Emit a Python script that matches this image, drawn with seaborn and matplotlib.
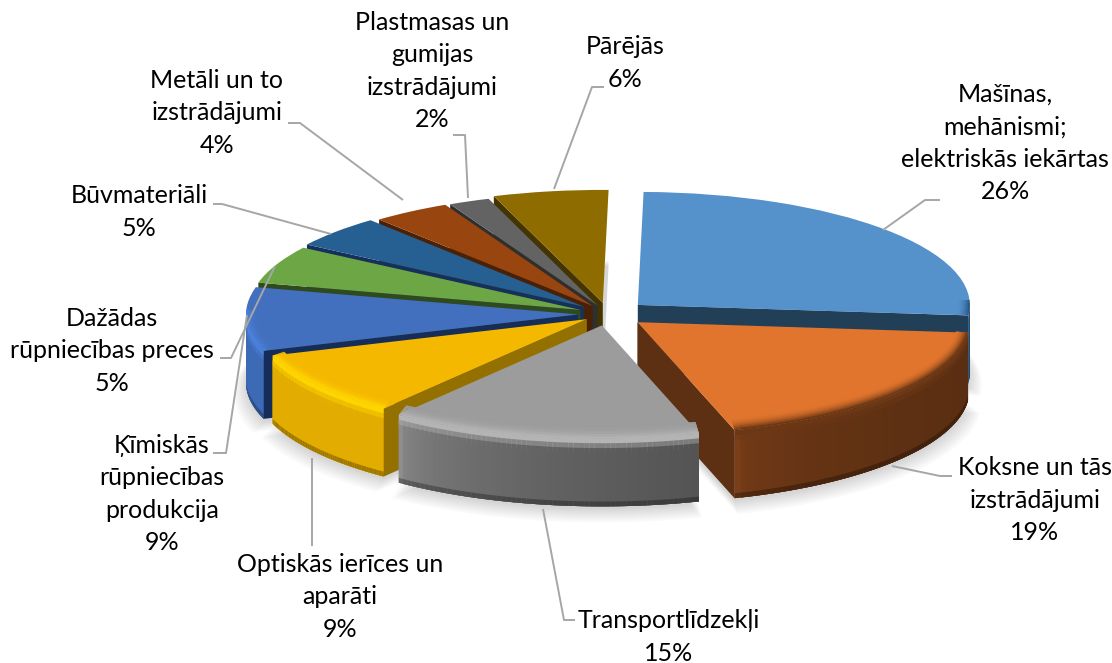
import numpy as np
import seaborn as sns
import matplotlib
matplotlib.use('Agg')
import matplotlib.pyplot as plt
from matplotlib.collections import PolyCollection
from matplotlib.colors import to_rgb
from matplotlib.patches import Wedge

# Data (label percentages are the rounded values)
categories = ['Mašīnas,\nmehānismi;\nelektriskās iekārtas', 'Koksne un tās\nizstrādājumi',
              'Transportlīdzekļi', 'Optiskās ierīces un\naparāti',
              'Ķīmiskās\nrūpniecības\nprodukcija', 'Dažādas\nrūpniecības preces',
              'Būvmateriāli', 'Metāli un to\nizstrādājumi',
              'Plastmasas un\ngumijas\nizstrādājumi', 'Pārējās']
shares = [26.2, 18.8, 15.2, 9.3, 9.1, 5.4, 4.6, 3.8, 2.0, 5.6]

# Styles, slice by slice
top_colors = ['#5591CB', '#E1752D', '#9C9C9C', '#F5B800', '#4370BE',
              '#6CA645', '#265F91', '#99450F', '#636363', '#8F6C00']
face_colors = ['#223F58', '#5E3013', '#555555', '#937000', '#162C59',
               '#2F4A1E', '#15305A', '#4A2106', '#2F2F2F', '#443400']
wall_left = ['#2F5F8F', '#7A3E18', '#8E8E8E', '#E3AC00', '#3D6AB5',
             '#4F7A33', '#1C4A72', '#74340B', '#4A4A4A', '#6B5100']
wall_right = ['#24496E', '#5A2E12', '#545454', '#E3AC00', '#3D6AB5',
              '#4F7A33', '#1C4A72', '#74340B', '#4A4A4A', '#6B5100']
rim_colors = ['#2A5A8A', '#6B3715', '#B4B4B4', '#FFD500', '#4A80DA',
              '#6CA645', '#265F91', '#99450F', '#636363', '#8F6C00']
explode_px = [40, 38, 34, 26, 30, 30, 32, 28, 27, 33]
paint_order = [9, 8, 7, 6, 5, 4, 3, 0, 1, 2]

# Layout in pixels
W, H = 1112, 663
CX, CY = 608, 314
RX, RY = 332, 113
DEPTH = 68 / RY


def to_xy(px, py):
    return (px - CX) / RX, (CY - py) / RY


def mix(a, b, f):
    a, b = np.array(to_rgb(a)), np.array(to_rgb(b))
    return tuple(a + (b - a) * f)


sns.set_theme(style='white')
plt.rcParams['font.family'] = ['Lato', 'DejaVu Sans']

fig = plt.figure(figsize=(W / 100, H / 100), dpi=100)
ax = fig.add_axes([0, 0, 1, 1])

wedges, _ = ax.pie(shares, colors=sns.color_palette(top_colors), startangle=89,
                   counterclock=False, explode=[e / RX for e in explode_px],
                   wedgeprops={'linewidth': 0})

# Soft shadow under the pie
for w in wedges:
    for i in range(7):
        ax.add_patch(Wedge((w.center[0], w.center[1] - DEPTH - (3 + i * 1.5) / RY),
                           1 + i * 0.006, w.theta1, w.theta2,
                           fc='black', ec='none', alpha=0.022, zorder=1))

for n, idx in enumerate(paint_order):
    w = wedges[idx]
    z = 10 + n * 5
    cx, cy = w.center
    w.set_zorder(z + 1)

    # outer wall, shaded across and down; each quad overlaps the next so no seams show
    th = np.linspace(w.theta1, w.theta2, 61)
    vis = np.sin(np.radians(th)) < 0.02
    xs = np.cos(np.radians(th[vis]))
    if len(xs) > 1:
        polys, cols = [], []
        levels = np.linspace(0, 1, 15)
        for a in range(len(th) - 1):
            if not (vis[a] and vis[a + 1]):
                continue
            t0 = np.radians(th[a])
            t1 = np.radians(th[min(a + 2, len(th) - 1)] if vis[min(a + 2, len(th) - 1)] else th[a + 1])
            f = (np.cos(t0) - xs.min()) / max(xs.max() - xs.min(), 1e-6)
            base = mix(wall_left[idx], wall_right[idx], f ** 0.4)
            for k, v0 in enumerate(levels[:-1]):
                v1 = levels[min(k + 2, len(levels) - 1)]
                if v0 < 0.12:
                    c = mix(rim_colors[idx], base, v0 / 0.12)
                elif v0 > 0.92:
                    c = mix(base, '#000000', 0.3)
                else:
                    c = base
                polys.append([(cx + np.cos(t0), cy + np.sin(t0) - v0 * DEPTH),
                              (cx + np.cos(t1), cy + np.sin(t1) - v0 * DEPTH),
                              (cx + np.cos(t1), cy + np.sin(t1) - v1 * DEPTH),
                              (cx + np.cos(t0), cy + np.sin(t0) - v1 * DEPTH)])
                cols.append(c)
        ax.add_collection(PolyCollection(polys, facecolors=cols, edgecolors='none', zorder=z))

    # the cut face that looks at the viewer
    for ang in (w.theta1, w.theta2):
        t_clock = (90 - ang) % 360
        show = (ang == w.theta2 and 180 < t_clock < 360) or (ang == w.theta1 and 5 < t_clock < 180)
        if show:
            a = np.radians(ang)
            ex, ey = cx + np.cos(a), cy + np.sin(a)
            ax.fill([cx, ex, ex, cx], [cy, ey, ey - DEPTH, cy - DEPTH],
                    color=face_colors[idx], lw=0, zorder=z)

    # bevel on the top face along the rim
    polys, cols = [], []
    bands = np.linspace(1, 0, 9)
    for k, b0 in enumerate(bands[:-1]):
        b1 = bands[k + 1]
        for a in range(len(th) - 1):
            t0, t1 = np.radians(th[a]), np.radians(th[min(a + 2, len(th) - 1)])
            if np.sin(t0) > 0.05 or np.sin(t1) > 0.05:
                continue
            r0, r1 = b0 * 12 / RY, b1 * 12 / RY
            s0, s1 = b0 * 12 / RX, b1 * 12 / RX
            polys.append([(cx + np.cos(t0) * (1 - s0), cy + np.sin(t0) * (1 - r0)),
                          (cx + np.cos(t1) * (1 - s0), cy + np.sin(t1) * (1 - r0)),
                          (cx + np.cos(t1) * (1 - s1), cy + np.sin(t1) * (1 - r1)),
                          (cx + np.cos(t0) * (1 - s1), cy + np.sin(t0) * (1 - r1))])
            cols.append(mix(top_colors[idx], rim_colors[idx], (1 - b1) ** 2))
    if polys:
        ax.add_collection(PolyCollection(polys, facecolors=cols, edgecolors='none', zorder=z + 2))

# Leader lines
leaders = [[(883, 230), (925, 200), (940, 200)],
           [(892, 466), (940, 476), (952, 476)],
           [(543, 509), (564, 620), (575, 620)],
           [(312, 458), (312, 546)],
           [(247, 315), (226, 453), (213, 453)],
           [(275, 266), (231, 358), (220, 358)],
           [(331, 234), (222, 204), (213, 204)],
           [(403, 200), (300, 123), (288, 123)],
           [(468, 198), (465, 135), (453, 135)],
           [(554, 189), (592, 87), (604, 87)]]
for pts in leaders:
    xy = np.array([to_xy(*p) for p in pts])
    ax.plot(xy[:, 0], xy[:, 1], color='#A6A6A6', lw=1.4, zorder=70, solid_capstyle='butt')

# Labels
label_pos = [(1005, 143), (1035, 500), (669, 637), (340, 597), (162, 494),
             (112, 351), (139, 212), (217, 113), (432, 71), (625, 63)]
for name, share, (px, py) in zip(categories, shares, label_pos):
    x, y = to_xy(px, py)
    ax.text(x, y, f'{name}\n{round(share)}%', ha='center', va='center', fontsize=18,
            color='black', linespacing=1.5, zorder=80)

ax.set_aspect('auto')
ax.set_xlim(to_xy(0, 0)[0], to_xy(W, 0)[0])
ax.set_ylim(to_xy(0, H)[1], to_xy(0, 0)[1])
ax.axis('off')
fig.savefig('out.png', dpi=100, facecolor='white')
